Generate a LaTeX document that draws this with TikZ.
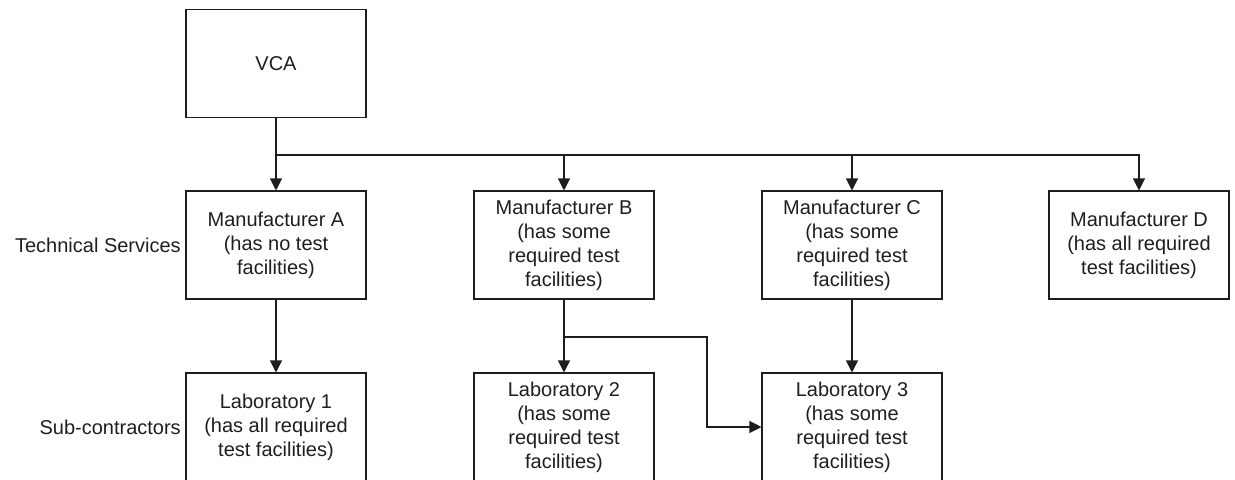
\documentclass[tikz,border=0pt]{standalone}
\usepackage{fontspec}
\setmainfont{Liberation Sans}
\usetikzlibrary{arrows.meta,positioning}
\definecolor{inkgray}{RGB}{30,30,30}

\begin{document}
\begin{tikzpicture}[
  x=0.75pt, y=-0.75pt,
  orgbox/.style={draw=inkgray, line width=0.8pt, minimum width=135pt, minimum height=81pt,
                 inner sep=0pt, align=center, font=\fontsize{15}{18}\selectfont, text=inkgray},
  tier/.style={anchor=east, inner sep=0pt, font=\fontsize{15}{18}\selectfont, text=inkgray},
  line/.style={draw=inkgray, line width=0.8pt},
  arr/.style={line, -{Triangle[width=9pt,length=9pt]}}
]
  \useasboundingbox (0,0) rectangle (1235,479);
  \clip (0,0) rectangle (1235,479);

  % Top authority
  \node[orgbox] (vca) at (276,63.5) {VCA};

  % Technical services
  \node[orgbox] (mfa) at (276,245)  {Manufacturer A\\(has no test\\facilities)};
  \node[orgbox] (mfb) at (564,245)  {Manufacturer B\\(has some\\required test\\facilities)};
  \node[orgbox] (mfc) at (852,245)  {Manufacturer C\\(has some\\required test\\facilities)};
  \node[orgbox] (mfd) at (1139,245) {Manufacturer D\\(has all required\\test facilities)};

  % Sub-contractors
  \node[orgbox] (lab1) at (276,427) {Laboratory 1\\(has all required\\test facilities)};
  \node[orgbox] (lab2) at (564,427) {Laboratory 2\\(has some\\required test\\facilities)};
  \node[orgbox] (lab3) at (852,427) {Laboratory 3\\(has some\\required test\\facilities)};

  % Row labels
  \node[tier] (techlbl) at (181,245) {Technical Services};
  \node[tier] (sublbl)  at (181,427) {Sub-contractors};

  % VCA connections
  \coordinate (bus) at (276,155);
  \draw[arr] (vca.south) -- (mfa.north);
  \foreach \m in {mfb,mfc,mfd}
    \draw[arr] (bus) -| (\m.north);

  % Sub-contracting
  \coordinate (split) at (564,337);
  \draw[arr] (mfa.south) -- (lab1.north);
  \draw[arr] (mfb.south) -- (lab2.north);
  \draw[arr] (split) -| (707,427) -- (lab3.west);
  \draw[arr] (mfc.south) -- (lab3.north);
\end{tikzpicture}
\end{document}
